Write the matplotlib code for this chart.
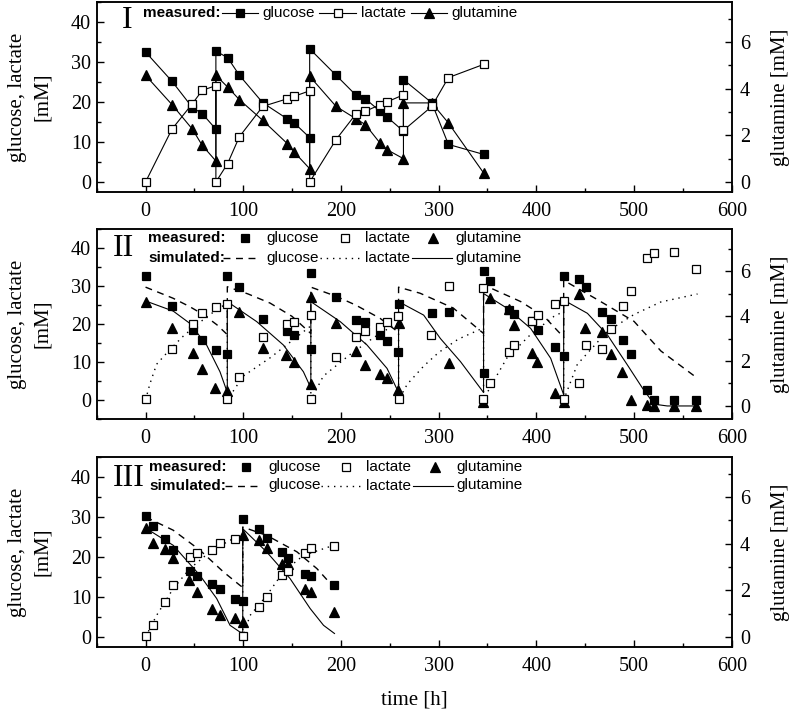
import matplotlib
matplotlib.use("Agg")
import matplotlib.pyplot as plt
from matplotlib.lines import Line2D
from matplotlib.ticker import MultipleLocator

# ---------------- data: panel I (measured only) ----------------
t1 = [0, 27, 48, 58, 72, 72, 84, 96, 120, 145, 152, 168, 168, 195, 215, 225, 240, 247, 264, 264, 293, 310, 346]
glc1 = [32.5, 25.2, 18.6, 17.1, 13.2, 32.7, 31.1, 26.7, 19.8, 15.8, 14.8, 11.1, 33.3, 26.7, 21.8, 20.8, 17.7, 16.3, 12.7, 25.6, 19.8, 9.4, 6.9]
lac1 = [0, 13.2, 19.6, 22.9, 24.1, 0, 4.6, 11.3, 18.9, 20.8, 21.4, 22.8, 0, 10.6, 16.9, 17.7, 19.3, 20.0, 21.8, 12.9, 18.9, 26.1, 29.4]
gln1 = [4.57, 3.32, 2.26, 1.57, 0.9, 4.57, 4.07, 3.53, 2.64, 1.65, 1.29, 0.57, 4.53, 3.24, 2.72, 2.46, 1.67, 1.39, 1.0, 3.39, 3.39, 2.53, 0.39]

# ---------------- data: panel II ----------------
tg2 = [0, 26.7, 48.2, 57.7, 72.1, 83.1, 83.7, 96, 120.6, 144.6, 152, 169.2, 169.2, 195.2, 215.7, 224.6, 240.3, 247.2, 258, 259, 292.8, 310.4, 346.3, 346.3, 353.1, 371.9, 377, 395.9, 401.7, 418.8, 428.3, 428.3, 443.7, 451.3, 467.7, 476.9, 489.2, 497.4, 513.8, 520, 540.5, 563.7]
glc2 = [32.5, 24.8, 18.5, 15.8, 13.2, 12.0, 32.5, 29.7, 21.4, 18.1, 17.2, 13.5, 33.5, 27, 21.1, 20.5, 17, 15.5, 12.6, 25.2, 22.9, 23.2, 7.2, 34, 31.3, 23.8, 22.6, 20.7, 18.3, 13.9, 11.6, 32.5, 31.9, 29.8, 23.2, 21.4, 15.7, 12.2, 2.7, 0, 0, 0]
tl2 = [0, 26.7, 48.9, 57.7, 72.1, 83.1, 83.7, 96, 120.6, 144.6, 152, 169.2, 169.2, 195.2, 215.7, 224.6, 240.3, 247.2, 258, 259, 292.3, 310.4, 345.6, 345.6, 353.1, 371.9, 377, 395.9, 401.7, 418.8, 428.3, 428.3, 443.7, 451.3, 467.7, 476.9, 489.2, 497.4, 513.8, 520, 540.5, 563.7]
lac2 = [0.3, 13.3, 20.1, 23, 24.4, 25.3, 0.3, 6.1, 16.5, 20, 20.5, 22.3, 0.3, 11.3, 16.7, 18.1, 19.2, 20.4, 22.2, 0.3, 17, 30.1, 29.6, 0.3, 4.4, 12.6, 14.4, 20.9, 22.3, 25.3, 26.1, 0.3, 4.4, 14.4, 13.5, 18.7, 24.8, 28.8, 37.4, 38.7, 39, 34.4]
tq2 = [0, 26.7, 48.2, 57.7, 71.4, 83.1, 96, 119.9, 143.9, 152, 169.2, 169.2, 195.2, 215.7, 224.6, 239.6, 247.2, 258, 259, 310.4, 345.6, 352.4, 371.9, 377, 395.9, 401, 418.8, 428.3, 443.7, 449.9, 467.7, 476.9, 488.2, 497.4, 513.1, 520, 540.5, 563.7]
gln2 = [4.64, 3.45, 2.34, 1.64, 0.81, 0.68, 4.16, 2.59, 2.27, 1.97, 0.96, 4.86, 3.70, 2.46, 1.82, 1.41, 1.23, 0.71, 3.70, 1.90, 0.19, 4.81, 4.31, 3.6, 2.34, 1.97, 0.56, 0.19, 4.96, 3.45, 3.28, 2.30, 1.52, 0.27, 0.04, 0, 0, 0]

# simulated (panel II)
sim_t_glc2 = [0, 28, 45, 59, 73, 83.7, 83.7, 105, 127.5, 150, 169.2, 169.2, 195, 215, 240, 259, 259, 281, 315, 346, 346, 384, 408, 428, 428, 462.6, 500, 527.5, 565]
sim_glc2 = [29.7, 26.8, 24.6, 22.5, 19.8, 17.2, 29.8, 27.9, 25.5, 22.0, 17.5, 29.7, 27.3, 25.0, 21.5, 17.8, 29.7, 28.1, 24.2, 17.5, 30.3, 25.9, 22.0, 16.5, 31.5, 26.4, 20.7, 12.9, 5.7]
sim_t_lac2 = [0, 4.4, 11.3, 25, 38.6, 52.3, 66, 77.9, 83.7, 83.7, 100, 127.5, 151.4, 169.2, 169.2, 182, 209.5, 233.4, 252.3, 259, 259, 268, 285, 300, 320, 346, 346, 353, 370, 394, 418, 428, 428, 442, 472.8, 500, 527.5, 565]
sim_lac2 = [0, 4.2, 9.4, 13.3, 16.8, 19.8, 22.5, 24.6, 25.3, 0, 6.3, 11.1, 15.9, 19.5, 0, 6.3, 12.0, 16.4, 19.4, 20.2, 0, 4.2, 9.0, 12.5, 16.0, 19.0, 0, 3.5, 11.1, 17.2, 22.0, 23.3, 0, 9.4, 18.1, 22.5, 25.8, 27.9]
sim_t_gln2 = [0, 28.3, 45.4, 62.5, 76.2, 83.7, 83.7, 113.8, 141.1, 161.6, 169.2, 169.2, 199.3, 226.7, 247.2, 259, 259, 284.7, 301.8, 322.4, 346, 346, 370.3, 394.2, 414.7, 428, 428, 452.3, 472.8, 493.3, 508.7, 520.6, 534, 565]
sim_gln2 = [4.67, 4.22, 3.67, 2.71, 1.52, 0.6, 4.64, 3.75, 2.71, 1.52, 0.8, 4.64, 3.75, 2.71, 1.67, 0.6, 4.64, 4.04, 3.0, 1.97, 0.6, 5.0, 4.34, 3.45, 2.12, 0.5, 4.71, 4.12, 3.16, 1.82, 0.79, 0.08, 0, 0]

# ---------------- data: panel III ----------------
t3 = [0, 7.2, 19.8, 28.3, 45.4, 52.9, 68, 76.2, 91.6, 99.5, 99.5, 116.2, 124.1, 140.1, 145.6, 163.4, 169.5, 193.4]
glc3 = [30.3, 27.7, 24.6, 21.7, 16.5, 15.2, 13.2, 12.1, 9.6, 9.0, 29.6, 26.9, 24.8, 21.3, 19.8, 15.8, 15.2, 12.9]
tl3 = [0, 7.2, 19.8, 28.3, 45.4, 52.9, 68, 76.2, 91.6, 99.5, 116.2, 124.1, 140.1, 145.6, 163.4, 169.5, 193.4]
lac3 = [0.2, 3.1, 8.8, 12.9, 20, 21, 21.8, 23.6, 24.4, 0.2, 7.5, 10, 15.6, 16.4, 21, 22.3, 22.8]
tq3 = [0, 7.2, 19.8, 28.3, 44.7, 52.9, 68, 76.2, 91.6, 99.5, 99.5, 116.2, 124.1, 140.1, 145.6, 163.4, 169.5, 193.4]
gln3 = [4.67, 4.05, 3.79, 3.39, 2.43, 1.93, 1.22, 0.96, 0.81, 0.64, 4.36, 4.17, 3.81, 3.15, 3.15, 2.07, 1.93, 1.07]

sim_t_glc3 = [0, 28.3, 55.7, 79.6, 96.7, 99.5, 99.5, 124.1, 154.9, 175.4, 192.4]
sim_glc3 = [30, 26.7, 21.7, 16.3, 12.9, 12.4, 27.5, 25.4, 21.3, 17.1, 12.5]
sim_t_lac3 = [0, 11.3, 28.3, 45.4, 66, 86.5, 99.5, 99.5, 107, 124.1, 141.1, 161.6, 192.4]
sim_lac3 = [0, 5.4, 12.1, 17.1, 21.3, 24.2, 25.3, 0, 5.4, 10.4, 16.3, 20.4, 22.9]
sim_t_gln3 = [0, 28.3, 55.7, 72.8, 86.5, 96.7, 99.5, 99.5, 124.1, 148, 168.5, 182.2, 193.4]
sim_gln3 = [4.67, 3.93, 2.64, 1.65, 0.5, 0.21, 0.2, 4.64, 3.64, 2.5, 1.22, 0.5, 0.15]

xticks = [0, 100, 200, 300, 400, 500, 600]
yticks_left = [0, 10, 20, 30, 40]
yticks_right = [0, 2, 4, 6]

# ---------------- figure ----------------
W, H = 795, 712
fig = plt.figure(figsize=(W / 100, H / 100), dpi=100)
SERIF = ["Liberation Serif", "DejaVu Serif"]
SANS = ["Liberation Sans", "DejaVu Sans"]

ax_left, ax_w = 96.7 / W, 635 / W
panels = [
    dict(top=2, bot=192, ylim=(-2.5, 45), rlim=(-2.5 * 6 / 35, 45 * 6 / 35), roman="I"),
    dict(top=229, bot=419, ylim=(-5, 45), rlim=(-0.58, 7.87), roman="II"),
    dict(top=457, bot=647, ylim=(-2.5, 45), rlim=(-2.5 * 6 / 35, 45 * 6 / 35), roman="III"),
]

def fx(px):
    return px / W

def fy(py):
    return 1 - py / H

axes = []
for i, p in enumerate(panels):
    ax = fig.add_axes([ax_left, fy(p["bot"]), ax_w, (p["bot"] - p["top"]) / H])
    ax2 = ax.twinx()
    ax.set_xlim(-50, 600)
    ax.set_ylim(*p["ylim"])
    ax2.set_ylim(*p["rlim"])
    ax.set_xticks(xticks)
    ax.xaxis.set_minor_locator(MultipleLocator(50))
    ax.set_yticks(yticks_left)
    ax.yaxis.set_minor_locator(MultipleLocator(5))
    ax2.set_yticks(yticks_right)
    ax2.yaxis.set_minor_locator(MultipleLocator(1))
    for a in (ax, ax2):
        for s in a.spines.values():
            s.set_linewidth(1.1)
    ax.tick_params(axis="both", which="both", direction="in", top=False, right=False)
    ax.tick_params(axis="both", which="major", length=5, width=1.0)
    ax.tick_params(axis="both", which="minor", length=3, width=1.0)
    ax.tick_params(axis="x", pad=7)
    ax.tick_params(axis="y", pad=4)
    ax2.tick_params(axis="y", which="both", direction="in", width=1.0, pad=6)
    ax2.tick_params(axis="y", which="major", length=5)
    ax2.tick_params(axis="y", which="minor", length=3)
    for lab in ax.get_xticklabels() + ax.get_yticklabels() + ax2.get_yticklabels():
        lab.set_family(SERIF)
        lab.set_fontsize(14.5)
    ax.set_zorder(ax2.get_zorder() + 1)
    ax.patch.set_visible(False)
    axes.append((ax, ax2))
    # axis labels
    yc = (p["top"] + p["bot"]) / 2
    fig.text(fx(18), fy(yc), "glucose, lactate", rotation=90, ha="center", va="center",
             family=SERIF, fontsize=15)
    fig.text(fx(43), fy(yc), "[mM]", rotation=90, ha="center", va="center",
             family=SERIF, fontsize=15)
    fig.text(fx(781), fy(yc), "glutamine [mM]", rotation=90, ha="center", va="center",
             family=SERIF, fontsize=15)

fig.text(fx(414), fy(700), "time [h]", ha="center", va="center", family=SERIF, fontsize=15)

mk = dict(color="black", markersize=5.5, markeredgewidth=0.9)
mk_sq_f = dict(marker="s", markerfacecolor="black", markeredgecolor="black", **mk)
mk_sq_o = dict(marker="s", markerfacecolor="white", markeredgecolor="black", **mk)
mk_tr = dict(marker="^", markerfacecolor="black", markeredgecolor="black",
             color="black", markersize=7, markeredgewidth=0.9)

# ---------- panel I ----------
ax, ax2 = axes[0]
ax.plot(t1, glc1, lw=0.8, zorder=3, **mk_sq_f)
ax.plot(t1, lac1, lw=0.8, zorder=3, **mk_sq_o)
ax2.plot(t1, gln1, lw=0.8, zorder=3, **mk_tr)

# ---------- panels II & III ----------
def sim_and_meas(ax, ax2, tg, g, tl, l, tq, q, stg, sg, stl, sl, stq, sq):
    ax.plot(stg, sg, color="black", lw=1.0, dashes=(5, 4), zorder=2)
    ax.plot(stl, sl, color="black", lw=1.0, dashes=(1, 3.5), zorder=2)
    ax.plot(stq, [v * 35 / 6 for v in sq], color="black", lw=0.8, zorder=2)
    ax.plot(tg, g, ls="none", zorder=3, **mk_sq_f)
    ax.plot(tl, l, ls="none", zorder=3, **mk_sq_o)
    ax2.plot(tq, q, ls="none", zorder=3, **mk_tr)

ax, ax2 = axes[1]
# simulated glutamine drawn on right axis scale
ax2.plot(sim_t_gln2, sim_gln2, color="black", lw=0.8, zorder=2)
ax.plot(sim_t_glc2, sim_glc2, color="black", lw=1.0, dashes=(5, 4), zorder=2)
ax.plot(sim_t_lac2, sim_lac2, color="black", lw=1.0, dashes=(1, 3.5), zorder=2)
ax.plot(tg2, glc2, ls="none", zorder=3, **mk_sq_f)
ax.plot(tl2, lac2, ls="none", zorder=3, **mk_sq_o)
ax2.plot(tq2, gln2, ls="none", zorder=3, **mk_tr)

ax, ax2 = axes[2]
ax2.plot(sim_t_gln3, sim_gln3, color="black", lw=0.8, zorder=2)
ax.plot(sim_t_glc3, sim_glc3, color="black", lw=1.0, dashes=(5, 4), zorder=2)
ax.plot(sim_t_lac3, sim_lac3, color="black", lw=1.0, dashes=(1, 3.5), zorder=2)
ax.plot(t3, glc3, ls="none", zorder=3, **mk_sq_f)
ax.plot(tl3, lac3, ls="none", zorder=3, **mk_sq_o)
ax2.plot(tq3, gln3, ls="none", zorder=3, **mk_tr)

# ---------- legends (drawn in figure pixel coordinates) ----------
LFS = 11

def ltext(px, py, s, bold=False):
    fig.text(fx(px), fy(py), s, ha="left", va="center", family=SANS, fontsize=LFS,
             fontweight="bold" if bold else "normal")

def lline(x1, x2, py, **kw):
    fig.add_artist(Line2D([fx(x1), fx(x2)], [fy(py), fy(py)], transform=fig.transFigure,
                          color="black", **kw))

def lmark(px, py, style):
    kw = dict(style)
    kw.pop("color", None)
    fig.add_artist(Line2D([fx(px)], [fy(py)], transform=fig.transFigure, ls="none",
                          color="black", **kw))

# panel I
r = 13
fig.text(fx(127.5), fy(21), "I", ha="center", va="center", family=SERIF, fontsize=23)
ltext(143.5, r, "measured:", bold=True)
lline(222, 258, r, lw=0.8); lmark(240, r, mk_sq_f); ltext(262, r, "glucose")
lline(319, 356, r, lw=0.8); lmark(337.5, r, mk_sq_o); ltext(360.5, r, "lactate")
lline(411, 447, r, lw=0.8); lmark(429, r, mk_tr); ltext(451, r, "glutamine")

# panels II and III
for (r1, r2, x0, rx, ry, rn) in [(238.3, 257.7, 148.3, 123, 249, "II"),
                                 (466.7, 485.5, 149.5, 129, 478, "III")]:
    dx = x0 - 148.3
    fig.text(fx(rx), fy(ry), rn, ha="center", va="center", family=SERIF, fontsize=23)
    ltext(x0, r1, "measured:", bold=True)
    ltext(x0, r2, "simulated:", bold=True)
    lmark(245 + dx, r1, mk_sq_f); ltext(266.7 + dx, r1, "glucose")
    lmark(345 + dx, r1, mk_sq_o); ltext(365 + dx, r1, "lactate")
    lmark(433.3 + dx, r1, mk_tr); ltext(455 + dx, r1, "glutamine")
    lline(223.3 + dx, 256 + dx, r2, lw=1.0, dashes=(5, 4)); ltext(266.7 + dx, r2, "glucose")
    lline(320 + dx, 362 + dx, r2, lw=1.0, dashes=(1, 3.5)); ltext(365 + dx, r2, "lactate")
    lline(411.7 + dx, 451.7 + dx, r2, lw=0.8); ltext(455 + dx, r2, "glutamine")

fig.savefig("out.png", dpi=100)
